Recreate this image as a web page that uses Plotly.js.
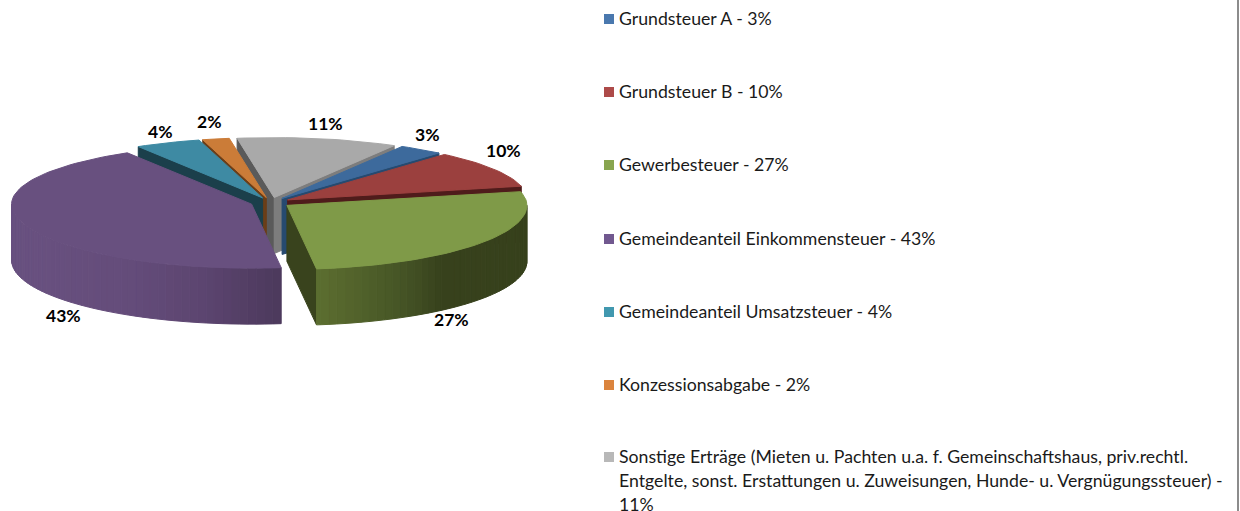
<!DOCTYPE html>
<html>
<head>
<meta charset="utf-8">
<script src="https://cdn.plot.ly/plotly-3.0.1.min.js"></script>
<style>html,body{margin:0;padding:0;background:#fff;overflow:hidden}#chart{width:1240px;height:511px}</style>
</head>
<body>
<div id="chart"></div>
<script>
// ---- data ----
const categories = ['Grundsteuer A', 'Grundsteuer B', 'Gewerbesteuer', 'Gemeindeanteil Einkommensteuer',
  'Gemeindeanteil Umsatzsteuer', 'Konzessionsabgabe',
  'Sonstige Erträge (Mieten u. Pachten u.a. f. Gemeinschaftshaus, priv.rechtl.'];
const legendLines = [
  ['Grundsteuer A - 3%'], ['Grundsteuer B - 10%'], ['Gewerbesteuer - 27%'],
  ['Gemeindeanteil Einkommensteuer - 43%'], ['Gemeindeanteil Umsatzsteuer - 4%'], ['Konzessionsabgabe - 2%'],
  ['Sonstige Erträge (Mieten u. Pachten u.a. f. Gemeinschaftshaus, priv.rechtl.',
   'Entgelte, sonst. Erstattungen u. Zuweisungen, Hunde- u. Vergnügungssteuer) -', '11%']
];
const values = [3, 10, 26.7, 43.3, 4.4, 1.8, 10.8];

// ---- styles ----
const topColors   = ['#3d6a9c', '#9b403e', '#7f9a48', '#68507f', '#3e8aa3', '#cb7c38', '#a9a9a9'];
const startWall   = ['#264a70', '#4f1c1b', '#39431d', '#46355a', '#1b3f4b', '#6b3e18', '#5a5a5a'];
const endWall     = ['#264a70', '#4f1c1b', '#39431d', '#46355a', '#1b3f4b', '#6b3e18', '#7d7d7d'];
const legendColors = ['#4a78ae', '#ad4a49', '#88a54f', '#71588f', '#4198af', '#db843d', '#b8b8b8'];
// rim shading: [angle in degrees, colour] stops
const rimStops = {
  2: [[90, [55, 65, 28]], [140, [55, 65, 28]], [152, [70, 85, 38]], [173, [92, 110, 48]]],
  3: [[173, [76, 57, 92]], [192, [92, 69, 112]], [210, [100, 76, 122]], [240, [104, 80, 127]], [270, [104, 80, 127]]]
};
const labelPos = [[427, 134], [503, 150], [451, 319], [63, 315], [160, 131], [209, 121], [325, 123]];
const legendRowY = [18, 91, 164, 238, 311, 384, 456];
const legendLineGap = 24;
const geo = {cx: 270.5, cy: 202.5, rx: 240, ryBack: 60, ryFront: 64, depth: 56, startDeg: 30, explodeX: 20, explodeY: 5};

// ---- geometry through the value scale ----
const total = values.reduce((a, b) => a + b, 0);
const rad = d => d * Math.PI / 180;
let cursor = geo.startDeg;
const slices = values.map((v, i) => {
  const a0 = cursor, a1 = cursor + v / total * 360;
  cursor = a1;
  const mid = rad((a0 + a1) / 2);
  return {i, a0, a1, ax: geo.cx + geo.explodeX * Math.sin(mid), ay: geo.cy - geo.explodeY * Math.cos(mid)};
});
const rimPt = (s, deg) => {
  const c = Math.cos(rad(deg));
  return [s.ax + geo.rx * Math.sin(rad(deg)), s.ay - (c > 0 ? geo.ryBack : geo.ryFront) * c];
};
const traces = [];
function poly(pts, color, seam) {
  traces.push({
    type: 'scatter', mode: 'lines', fill: 'toself', fillcolor: color,
    x: pts.map(p => p[0]).concat([pts[0][0]]), y: pts.map(p => p[1]).concat([pts[0][1]]),
    line: {color: color, width: seam ? 1 : 0}, hoverinfo: 'skip', showlegend: false
  });
}
function wall(s, deg, color) {
  const p = rimPt(s, deg), d = geo.depth;
  poly([[s.ax, s.ay], p, [p[0], p[1] + d], [s.ax, s.ay + d]], color, true);
}
function rimColor(i, deg) {
  const st = rimStops[i];
  for (let k = 0; k < st.length - 1; k++) {
    if (deg <= st[k + 1][0]) {
      const t = Math.max(0, (deg - st[k][0]) / (st[k + 1][0] - st[k][0]));
      const c = st[k][1].map((v, j) => Math.round(v + (st[k + 1][1][j] - v) * t));
      return 'rgb(' + c.join(',') + ')';
    }
  }
  return 'rgb(' + st[st.length - 1][1].join(',') + ')';
}
function drawSlice(s) {
  if (Math.sin(rad(s.a0)) < 0) wall(s, s.a0, startWall[s.i]);
  if (Math.sin(rad(s.a1)) > 0) wall(s, s.a1, endWall[s.i]);
  const f0 = Math.max(s.a0, 90), f1 = Math.min(s.a1, 270);
  if (f1 > f0) {
    const step = 2;
    for (let a = f0; a < f1; a += step) {
      const b = Math.min(a + step, f1), p = rimPt(s, a), q = rimPt(s, b), m = (a + b) / 2;
      poly([p, q, [q[0], q[1] + geo.depth], [p[0], p[1] + geo.depth]],
           rimStops[s.i] ? rimColor(s.i, m) : topColors[s.i], true);
    }
  }
  const top = [[s.ax, s.ay]];
  const n = Math.max(4, Math.ceil((s.a1 - s.a0) / 2));
  for (let k = 0; k <= n; k++) top.push(rimPt(s, s.a0 + (s.a1 - s.a0) * k / n));
  poly(top, topColors[s.i], true);
}
// back to front
[6, 5, 4, 0, 1, 3, 2].forEach(i => drawSlice(slices[i]));

// legend swatches
traces.push({
  type: 'scatter', mode: 'markers', x: legendRowY.map(() => 609), y: legendRowY.map(y => y + 1),
  marker: {symbol: 'square', size: 10, color: legendColors, line: {width: 0}},
  text: categories, hoverinfo: 'text', showlegend: false
});

const annotations = [];
values.forEach((v, i) => annotations.push({
  x: labelPos[i][0], y: labelPos[i][1], xref: 'x', yref: 'y', text: '<b>' + Math.round(v) + '%</b>', showarrow: false,
  xanchor: 'center', yanchor: 'middle', font: {family: 'Lato, sans-serif', size: 17.5, color: '#000'}
}));
legendLines.forEach((lines, i) => lines.forEach((t, k) => annotations.push({
  x: 617, y: legendRowY[i] + k * legendLineGap, xref: 'x', yref: 'y', text: t, showarrow: false,
  xanchor: 'left', yanchor: 'middle', font: {family: 'Lato, sans-serif', size: 17.7, color: '#1a1a1a'}
})));

const layout = {
  width: 1240, height: 511, margin: {l: 0, r: 0, t: 0, b: 0},
  paper_bgcolor: '#fff', plot_bgcolor: '#fff', showlegend: false,
  xaxis: {range: [0, 1240], visible: false, fixedrange: true},
  yaxis: {range: [511, 0], visible: false, fixedrange: true},
  annotations,
  shapes: [{type: 'line', xref: 'x', yref: 'y', x0: 1238, x1: 1238, y0: 0, y1: 511, line: {color: '#8c8c8c', width: 2}}]
};
Plotly.newPlot('chart', traces, layout, {displayModeBar: false, staticPlot: true});
</script>
</body>
</html>
